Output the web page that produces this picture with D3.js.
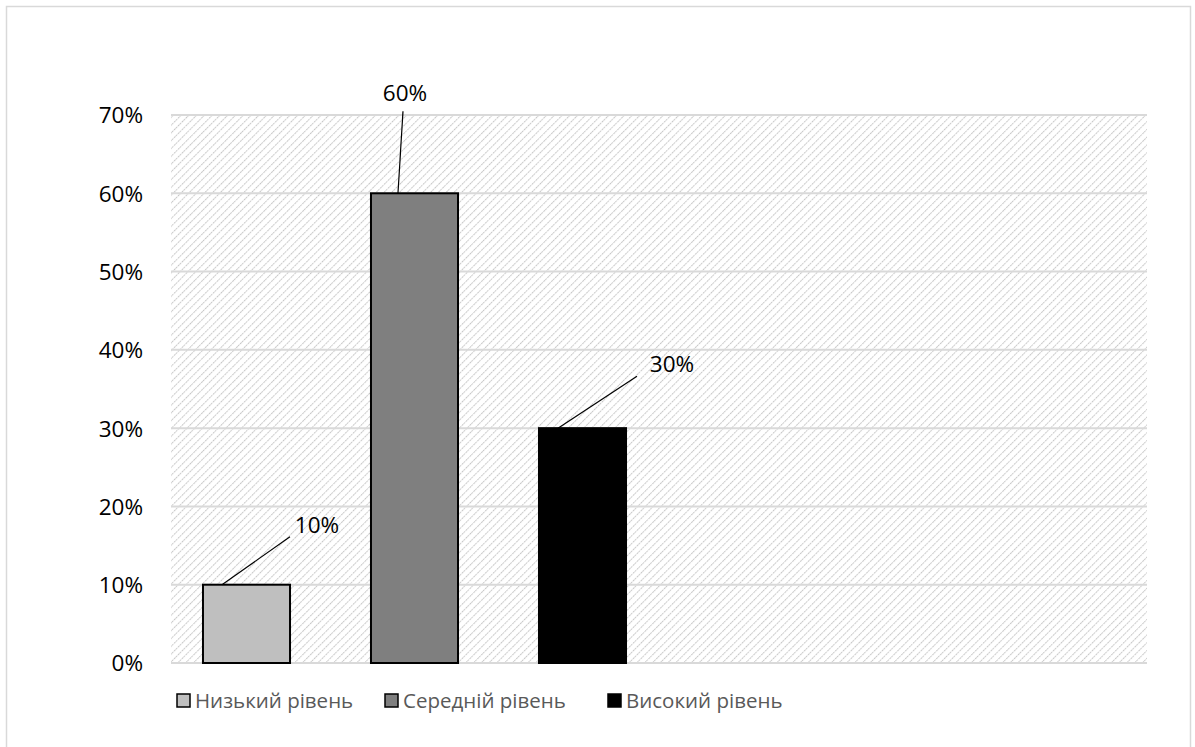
<!DOCTYPE html>
<html><head><meta charset="utf-8">
<script src="https://cdn.jsdelivr.net/npm/d3@7"></script>
<style>body{margin:0;background:#fff}svg{display:block}</style>
</head><body><svg id="c" width="1195" height="747"></svg>
<script>
const categories = ["Низький рівень", "Середній рівень", "Високий рівень"];
const values = [0.10, 0.60, 0.30];
const colors = ["#bfbfbf", "#7f7f7f", "#000000"];
const yTicks = [0, 0.1, 0.2, 0.3, 0.4, 0.5, 0.6, 0.7];

const svg = d3.select("#c");
const font = "'Open Sans', 'Liberation Sans', sans-serif";
const L = 171, R = 1147, T = 115, B = 663;
const leader = [[68, -48], [5, -82], [79, -52]];
const textOff = [[27, -12], [2, -18], [35, -12]];

svg.append("rect").attr("x", 6.5).attr("y", 6.5).attr("width", 1184).attr("height", 760)
  .attr("fill", "#fff").attr("stroke", "#d9d9d9").attr("stroke-width", 1.5);

const defs = svg.append("defs");
const pat = defs.append("pattern").attr("id", "hatch").attr("patternUnits", "userSpaceOnUse")
  .attr("width", 5.5).attr("height", 5.5).attr("patternTransform", "rotate(45)");
pat.append("line").attr("x1", 0).attr("y1", 0).attr("x2", 0).attr("y2", 5.5)
  .attr("stroke", "#c8c8c8").attr("stroke-width", 2).attr("stroke-dasharray", "2,1");

const y = d3.scaleLinear().domain([0, 0.7]).range([B, T]);
const step = 168;
const x = d3.scaleBand().domain(categories).range([L - 8.5, L - 8.5 + 3 * step])
  .paddingInner(0.47).paddingOuter(0.235);

svg.append("rect").attr("x", L).attr("y", T).attr("width", R - L).attr("height", B - T)
  .attr("fill", "url(#hatch)");

svg.append("g").selectAll("line").data(yTicks).join("line")
  .attr("x1", L).attr("x2", R).attr("y1", d => y(d)).attr("y2", d => y(d))
  .attr("stroke", "#d9d9d9").attr("stroke-width", 2);

const yAxis = d3.axisLeft(y).tickValues(yTicks).tickFormat(d3.format(".0%")).tickSize(0).tickPadding(0);
const ga = svg.append("g").attr("transform", `translate(${L - 28},0)`).call(yAxis);
ga.select(".domain").remove();
ga.selectAll("text").attr("font-family", font).attr("font-size", 22.5).attr("fill", "#000")
  .attr("dy", "0.35em");

svg.append("g").selectAll("rect").data(values).join("rect")
  .attr("x", (d, i) => x(categories[i]) + 1)
  .attr("y", d => y(d))
  .attr("width", x.bandwidth() - 2)
  .attr("height", d => B - y(d))
  .attr("fill", (d, i) => colors[i])
  .attr("stroke", "#000").attr("stroke-width", 2);

values.forEach((v, i) => {
  const bx = x(categories[i]);
  const sx = i === 1 ? bx + 28 : bx + 20;
  const sy = y(v);
  const ex = sx + leader[i][0], ey = sy + leader[i][1];
  svg.append("line").attr("x1", sx).attr("y1", sy).attr("x2", ex).attr("y2", ey)
    .attr("stroke", "#000").attr("stroke-width", 1.2);
  svg.append("text").attr("x", ex + textOff[i][0]).attr("y", ey + textOff[i][1]).attr("dy", "0.35em")
    .attr("text-anchor", "middle").attr("font-family", font).attr("font-size", 22.5)
    .attr("fill", "#000").text(d3.format(".0%")(v));
});

const legX = [177, 385, 608];
const lg = svg.append("g");
categories.forEach((c, i) => {
  lg.append("rect").attr("x", legX[i]).attr("y", 694).attr("width", 13).attr("height", 13)
    .attr("fill", colors[i]).attr("stroke", "#000").attr("stroke-width", 1.5);
  lg.append("text").attr("x", legX[i] + 18).attr("y", 701).attr("dy", "0.35em")
    .attr("font-family", font).attr("font-size", 20.5).attr("fill", "#595959").text(c);
});
</script></body></html>
